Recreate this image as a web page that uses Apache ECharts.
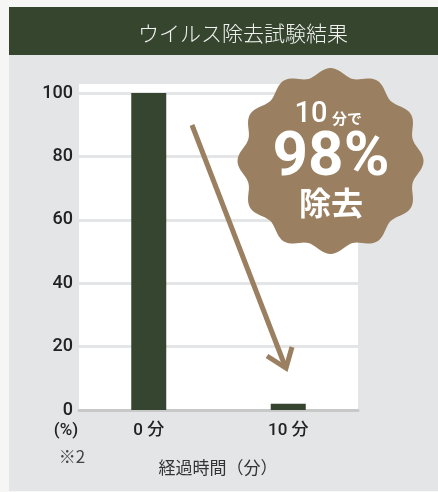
<!DOCTYPE html>
<html>
<head>
<meta charset="utf-8">
<script src="https://cdn.jsdelivr.net/npm/echarts@6/dist/echarts.min.js"></script>
<style>
  html, body { margin: 0; padding: 0; background: #f6f6f4; }
  #chart { width: 438px; height: 492px; }
</style>
</head>
<body>
<div id="chart"></div>
<script>
// data
const categories = ['0 分', '10 分'];
const removalValues = [100, 2];
const yTicks = [0, 20, 40, 60, 80, 100];

const title = 'ウイルス除去試験結果';
const xName = '経過時間（分）';

const green = '#36452f';
const brown = '#9a7f60';
const jp = '"Noto Sans CJK JP", sans-serif';
const num = 'Roboto, "Noto Sans CJK JP", sans-serif';

// scalloped badge outline
function badgePoints(cx, cy, r, amp, bumps) {
  const pts = [];
  for (let i = 0; i < 240; i++) {
    const a = (i / 240) * Math.PI * 2;
    const rr = r + amp * Math.cos(bumps * a);
    pts.push([cx + rr * Math.sin(a), cy - rr * Math.cos(a)]);
  }
  return pts;
}

const chart = echarts.init(document.getElementById('chart'));
chart.setOption({
  animation: false,
  grid: { left: 79, right: 80, top: 93, bottom: 82 },
  xAxis: {
    type: 'category',
    data: categories,
    axisLine: { show: true, lineStyle: { color: '#c8c8c8', width: 3 } },
    axisTick: { show: false },
    axisLabel: { color: '#222', fontSize: 17, fontWeight: 500, fontFamily: num, margin: 12 }
  },
  yAxis: {
    type: 'value',
    min: yTicks[0],
    max: yTicks[yTicks.length - 1],
    interval: 20,
    axisLine: { show: false },
    axisTick: { show: false },
    axisLabel: { color: '#222', fontSize: 18, fontWeight: 500, fontFamily: num, margin: 6 },
    splitLine: { lineStyle: { color: '#e4e5e7', width: 3 } }
  },
  series: [{
    type: 'bar',
    data: removalValues,
    barWidth: 35,
    itemStyle: { color: green },
    z: 3
  }],
  graphic: [
    // panel
    { type: 'rect', z: -10, silent: true, shape: { x: 9, y: 7, width: 440, height: 484 }, style: { fill: '#e4e5e7' } },
    { type: 'rect', z: -9, silent: true, shape: { x: 9, y: 7, width: 440, height: 48 }, style: { fill: '#35452e' } },
    { type: 'text', z: -8, x: 243, y: 33, style: { text: title, fill: '#f2f2f2', fontSize: 21, fontWeight: 300, fontFamily: jp, letterSpacing: 3, align: 'center', verticalAlign: 'middle' } },
    // white plot background
    { type: 'rect', z: -7, silent: true, shape: { x: 79, y: 84, width: 279, height: 326 }, style: { fill: '#ffffff' } },
    // arrow
    { type: 'line', z: 20, shape: { x1: 192, y1: 125, x2: 285, y2: 366 }, style: { stroke: brown, lineWidth: 5 } },
    { type: 'polyline', z: 20, shape: { points: [[267, 356], [286, 368], [292, 347]] }, style: { stroke: brown, lineWidth: 5, fill: null, lineJoin: 'miter' } },
    // badge
    { type: 'polygon', z: 30, shape: { points: badgePoints(330.5, 161, 89, 4, 12), smooth: 0 }, style: { fill: brown } },
    { type: 'text', z: 31, x: 311, y: 115, style: { text: '10', fill: '#fff', fontSize: 29, fontWeight: 500, fontFamily: num, align: 'center', verticalAlign: 'middle' } },
    { type: 'text', z: 31, x: 347, y: 118, style: { text: '分で', fill: '#fff', fontSize: 15, fontWeight: 'bold', fontFamily: jp, align: 'center', verticalAlign: 'middle' } },
    { type: 'text', z: 31, x: 331, y: 159, style: { text: '98%', fill: '#fff', fontSize: 62, fontWeight: 'bold', fontFamily: num, align: 'center', verticalAlign: 'middle' } },
    { type: 'text', z: 31, x: 331, y: 203, style: { text: '除去', fill: '#fff', fontSize: 32, fontWeight: 'bold', fontFamily: jp, align: 'center', verticalAlign: 'middle' } },
    // axis notes
    { type: 'text', x: 66, y: 431, style: { text: '(%)', fill: '#222', fontSize: 17, fontWeight: 500, fontFamily: num, align: 'center', verticalAlign: 'middle' } },
    { type: 'text', x: 72, y: 457, style: { text: '※2', fill: '#444', fontSize: 17, fontFamily: jp, align: 'center', verticalAlign: 'middle' } },
    { type: 'text', x: 218, y: 468, style: { text: xName, fill: '#333', fontSize: 17, fontFamily: jp, align: 'center', verticalAlign: 'middle' } }
  ]
});
</script>
</body>
</html>
